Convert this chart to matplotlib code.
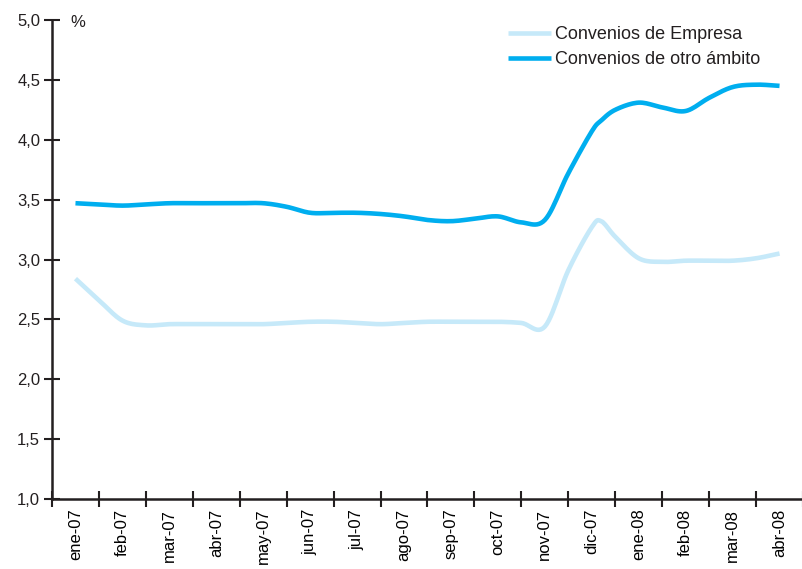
import numpy as np
import matplotlib.pyplot as plt

# Meses (categorias del eje X)
meses = ['ene-07', 'feb-07', 'mar-07', 'abr-07', 'may-07', 'jun-07', 'jul-07', 'ago-07',
         'sep-07', 'oct-07', 'nov-07', 'dic-07', 'ene-08', 'feb-08', 'mar-08', 'abr-08']

# posicion de cada lectura (en meses desde ene-07), lecturas cada medio mes
pos = [0, 0.5, 1, 1.5, 2, 2.5, 3, 3.5, 4, 4.5, 5, 5.5, 6, 6.5, 7, 7.5,
       8, 8.5, 9, 9.5, 10, 10.5, 11, 11.2, 11.5, 12, 12.5, 13, 13.5, 14, 14.5, 15]

# Convenios de Empresa (%)
empresa = [2.84, 2.66, 2.49, 2.45, 2.46, 2.46, 2.46, 2.46, 2.46, 2.47, 2.48, 2.48, 2.47, 2.46, 2.47, 2.48,
           2.48, 2.48, 2.48, 2.47, 2.44, 2.91, 3.27, 3.32, 3.19, 3.01, 2.98, 2.99, 2.99, 2.99, 3.01, 3.05]

# Convenios de otro ambito (%)
otro = [3.47, 3.46, 3.45, 3.46, 3.47, 3.47, 3.47, 3.47, 3.47, 3.44, 3.39, 3.39, 3.39, 3.38, 3.36, 3.33,
        3.32, 3.34, 3.36, 3.31, 3.33, 3.72, 4.07, 4.16, 4.25, 4.31, 4.27, 4.24, 4.35, 4.44, 4.46, 4.45]

C_EMP = '#c6e9f9'
C_OTRO = '#00aeef'
NEGRO = '#231f20'


def suavizar(x, y, n=12):
    # linea suavizada tipo Excel (Catmull-Rom) solo para dibujar
    x = np.asarray(x, float)
    y = np.asarray(y, float)
    px = np.concatenate([[2 * x[0] - x[1]], x, [2 * x[-1] - x[-2]]])
    py = np.concatenate([[2 * y[0] - y[1]], y, [2 * y[-1] - y[-2]]])
    t = np.linspace(0, 1, n, endpoint=False)
    xs, ys = [], []
    for i in range(1, len(px) - 2):
        for p, out in ((px, xs), (py, ys)):
            p0, p1, p2, p3 = p[i - 1], p[i], p[i + 1], p[i + 2]
            out.extend(0.5 * (2 * p1 + (-p0 + p2) * t + (2 * p0 - 5 * p1 + 4 * p2 - p3) * t ** 2
                              + (-p0 + 3 * p1 - 3 * p2 + p3) * t ** 3))
    xs.append(x[-1])
    ys.append(y[-1])
    return xs, ys


plt.rcParams['font.family'] = ['Liberation Sans', 'DejaVu Sans']

fig = plt.figure(figsize=(8.03, 5.69), dpi=100)
ax = fig.add_axes([52 / 803, 70 / 569, 1 - 52 / 803, 479 / 569])

ax.plot(*suavizar(pos, empresa), color=C_EMP, lw=3.3, solid_joinstyle='round', solid_capstyle='butt',
        label='Convenios de Empresa')
ax.plot(*suavizar(pos, otro), color=C_OTRO, lw=3.3, solid_joinstyle='round', solid_capstyle='butt',
        label='Convenios de otro ámbito')

ax.set_ylim(1.0, 5.0)
ax.set_xlim(-0.5, -0.5 + (803 - 52) / 47.35)
ax.set_yticks(np.arange(1.0, 5.01, 0.5))
ax.set_yticklabels([f'{v:.1f}'.replace('.', ',') for v in np.arange(1.0, 5.01, 0.5)], fontsize=12)

# ticks entre categorias, etiquetas centradas
ax.set_xticks(np.arange(-0.5, 15.6, 1))
ax.set_xticklabels([])
ax.set_xticks(np.arange(len(meses)), minor=True)
ax.set_xticklabels(meses, minor=True, rotation=90, fontsize=12)
ax.tick_params(axis='x', which='minor', length=0, pad=7)
ax.tick_params(axis='x', which='major', direction='inout', length=11, width=1.5, color=NEGRO)
ax.tick_params(axis='y', direction='inout', length=11, width=1.5, color=NEGRO, pad=3)
ax.tick_params(labelcolor=NEGRO)

for s in ['top', 'right']:
    ax.spines[s].set_visible(False)
for s in ['left', 'bottom']:
    ax.spines[s].set_linewidth(1.8)
    ax.spines[s].set_color(NEGRO)

ax.text(0.05, 4.975, '%', fontsize=12, color=NEGRO, ha='center', va='center')

leg = ax.legend(loc='upper left', bbox_to_anchor=(0.607, 0.987), frameon=False, fontsize=13,
                handlelength=2.4, handletextpad=0.2, labelspacing=0.45,
                borderaxespad=0, borderpad=0)
for t in leg.get_texts():
    t.set_color(NEGRO)

fig.savefig('out.png', dpi=100)
